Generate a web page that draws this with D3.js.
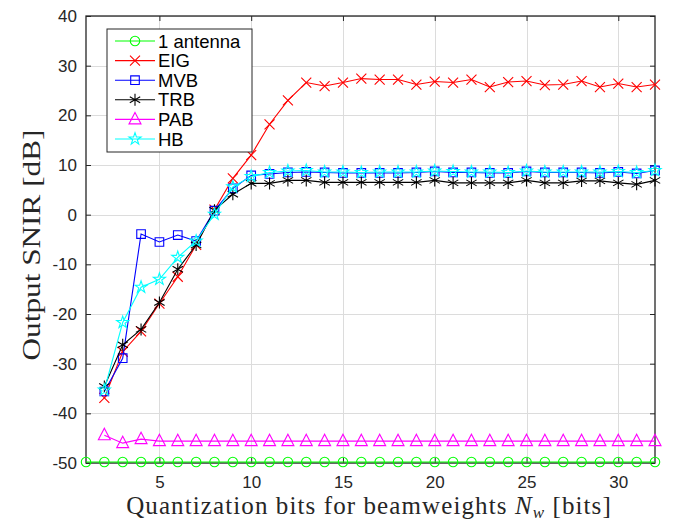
<!DOCTYPE html>
<html>
<head>
<meta charset="utf-8">
<script src="https://cdn.jsdelivr.net/npm/d3@7"></script>
<style>
  body { margin: 0; background: #fff; }
  svg { display: block; }
</style>
</head>
<body>
<svg id="chart" width="688" height="523"></svg>
<script>
// bits N_w
let bitsAll = d3.range(1, 33);
let bits = d3.range(2, 33);

let oneAntenna = bitsAll.map(() => -49.8);
let eig = [-36.9, -27.6, -23.5, -17.9, -12.5, -6.1, 1.0, 7.3, 12.0, 18.2, 23.0, 26.6, 25.9, 26.6, 27.4, 27.2, 27.2, 26.2, 26.8,
    26.6, 27.2, 25.7, 26.7, 26.9, 26.1, 26.2, 26.9, 25.7, 26.4, 25.7, 26.2];
let mvb = [-35.6, -28.9, -3.9, -5.5, -4.1, -5.3, 0.8, 5.3, 7.9, 8.2, 8.5, 8.6, 8.5, 8.4, 8.4, 8.4, 8.4, 8.5, 8.7,
    8.5, 8.5, 8.4, 8.4, 8.7, 8.5, 8.5, 8.5, 8.4, 8.6, 8.3, 8.9];
let trb = [-34.6, -26.2, -23.1, -17.7, -11.0, -6.1, 0.9, 4.1, 6.3, 6.3, 6.9, 6.9, 6.5, 6.5, 6.5, 6.5, 6.5, 6.5, 6.9,
    6.4, 6.4, 6.4, 6.4, 6.9, 6.4, 6.4, 6.8, 6.8, 6.4, 6.1, 6.9];
let pab = [-44.4, -46.0, -45.2].concat(d3.range(5, 33).map(() => -45.6));
let hb = [-35.3, -21.7, -14.6, -13.0, -8.6, -5.3, 0.1, 5.6, 7.7, 8.5, 8.8, 8.9, 8.6, 8.6, 8.5, 8.6, 8.6, 8.6, 8.8,
    8.7, 8.6, 8.6, 8.5, 8.8, 8.6, 8.6, 8.6, 8.6, 8.7, 8.5, 8.9];

let xTicks = [5, 10, 15, 20, 25, 30];
let yTicks = [-50, -40, -30, -20, -10, 0, 10, 20, 30, 40];

let series = [
    {name: "1 antenna", x: bitsAll, y: oneAntenna, color: "#00ff00", marker: "circle"},
    {name: "EIG", x: bits, y: eig, color: "#ff0000", marker: "x"},
    {name: "MVB", x: bits, y: mvb, color: "#0000ff", marker: "square"},
    {name: "TRB", x: bits, y: trb, color: "#000000", marker: "asterisk"},
    {name: "PAB", x: bits, y: pab, color: "#ff00ff", marker: "triangle"},
    {name: "HB", x: bits, y: hb, color: "#00ffff", marker: "star"}
];

let margin = {left: 86, right: 33, top: 16, bottom: 60};
let W = 688, H = 523;
let svg = d3.select("#chart");

let x = d3.scaleLinear().domain([1, 32]).range([margin.left, W - margin.right]);
let y = d3.scaleLinear().domain([-50, 40]).range([H - margin.bottom, margin.top]);

let axisColor = "#262626";
let sansFont = "'Liberation Sans', Arial, sans-serif";
let serifFont = "'Liberation Serif', 'Times New Roman', serif";

// grid
let grid = svg.append("g").attr("stroke", "#dcdcdc").attr("stroke-width", 1);
grid.selectAll(".gx").data(xTicks).enter().append("line")
    .attr("x1", d => Math.round(x(d)) + 0.5).attr("x2", d => Math.round(x(d)) + 0.5)
    .attr("y1", y(-50)).attr("y2", y(40));
grid.selectAll(".gy").data(yTicks).enter().append("line")
    .attr("y1", d => Math.round(y(d)) + 0.5).attr("y2", d => Math.round(y(d)) + 0.5)
    .attr("x1", x(1)).attr("x2", x(32));

// axes (ticks inward, box on all sides)
function styleAxis(g) {
    g.select(".domain").remove();
    g.selectAll("line").attr("stroke", axisColor);
    g.selectAll("text").attr("fill", axisColor).attr("font-family", sansFont).attr("font-size", 17);
}
let plain = d => String(d);
svg.append("g").attr("transform", `translate(0,${y(-50)})`)
    .call(d3.axisBottom(x).tickValues(xTicks).tickFormat(plain).tickSizeInner(-5).tickSizeOuter(0).tickPadding(13))
    .call(styleAxis);
svg.append("g").attr("transform", `translate(0,${y(40)})`)
    .call(d3.axisTop(x).tickValues(xTicks).tickSizeInner(-5).tickSizeOuter(0).tickFormat(""))
    .call(styleAxis);
svg.append("g").attr("transform", `translate(${x(1)},0)`)
    .call(d3.axisLeft(y).tickValues(yTicks).tickFormat(plain).tickSizeInner(-5).tickSizeOuter(0).tickPadding(9))
    .call(styleAxis);
svg.append("g").attr("transform", `translate(${x(32)},0)`)
    .call(d3.axisRight(y).tickValues(yTicks).tickSizeInner(-5).tickSizeOuter(0).tickFormat(""))
    .call(styleAxis);

svg.append("rect")
    .attr("x", x(1)).attr("y", y(40))
    .attr("width", x(32) - x(1)).attr("height", y(-50) - y(40))
    .attr("fill", "none").attr("stroke", axisColor).attr("stroke-width", 1.3);

// markers
function markerPath(type) {
    switch (type) {
        case "circle": return d3.symbol(d3.symbolCircle, 70)();
        case "square": return "M-4.3,-4.3H4.3V4.3H-4.3Z";
        case "x": return "M-5,-5L5,5M-5,5L5,-5";
        case "asterisk": return "M0,-6V6M-5.2,-3L5.2,3M-5.2,3L5.2,-3";
        case "triangle": return "M0,-7L6,4.5H-6Z";
        case "star": return d3.symbol(d3.symbolStar, 45)();
    }
}

let line = d3.line().x(d => x(d[0])).y(d => y(d[1]));

let plot = svg.append("g");
series.forEach(s => {
    let pts = s.x.map((v, i) => [v, s.y[i]]);
    let g = plot.append("g");
    g.append("path").datum(pts)
        .attr("d", line).attr("fill", "none")
        .attr("stroke", s.color).attr("stroke-width", 1.1);
    g.selectAll("path.mk").data(pts).enter().append("path")
        .attr("class", "mk")
        .attr("transform", d => `translate(${x(d[0])},${y(d[1])})`)
        .attr("d", markerPath(s.marker))
        .attr("fill", "none").attr("stroke", s.color).attr("stroke-width", 1.1);
});

// legend
let lg = svg.append("g").attr("transform", "translate(107,29)");
lg.append("rect").attr("width", 145).attr("height", 123)
    .attr("fill", "#fff").attr("stroke", axisColor).attr("stroke-width", 1);
series.forEach((s, i) => {
    let yy = 12 + i * 19.6;
    lg.append("line").attr("x1", 8).attr("x2", 48).attr("y1", yy).attr("y2", yy)
        .attr("stroke", s.color).attr("stroke-width", 1.1);
    lg.append("path").attr("transform", `translate(28,${yy})`)
        .attr("d", markerPath(s.marker))
        .attr("fill", "none").attr("stroke", s.color).attr("stroke-width", 1.1);
    lg.append("text").attr("x", 51).attr("y", yy + 6.5)
        .attr("font-family", sansFont).attr("font-size", 18.5).attr("fill", "#000")
        .text(s.name);
});

// axis labels
let xl = svg.append("text")
    .attr("x", 369).attr("y", 514)
    .attr("text-anchor", "middle")
    .attr("font-family", serifFont).attr("font-size", 25).attr("letter-spacing", 1.1)
    .attr("fill", "#262626");
xl.append("tspan").text("Quantization bits for beamweights ");
xl.append("tspan").attr("font-style", "italic").text("N");
xl.append("tspan").attr("font-style", "italic").attr("font-size", 17).attr("dy", 4).text("w");
xl.append("tspan").attr("dy", -4).text(" [bits]");

svg.append("text")
    .attr("transform", "translate(40,245) rotate(-90)")
    .attr("text-anchor", "middle")
    .attr("font-family", serifFont).attr("font-size", 25).attr("fill", "#262626")
    .attr("textLength", 231).attr("lengthAdjust", "spacingAndGlyphs")
    .text("Output SNIR [dB]");
</script>
</body>
</html>
